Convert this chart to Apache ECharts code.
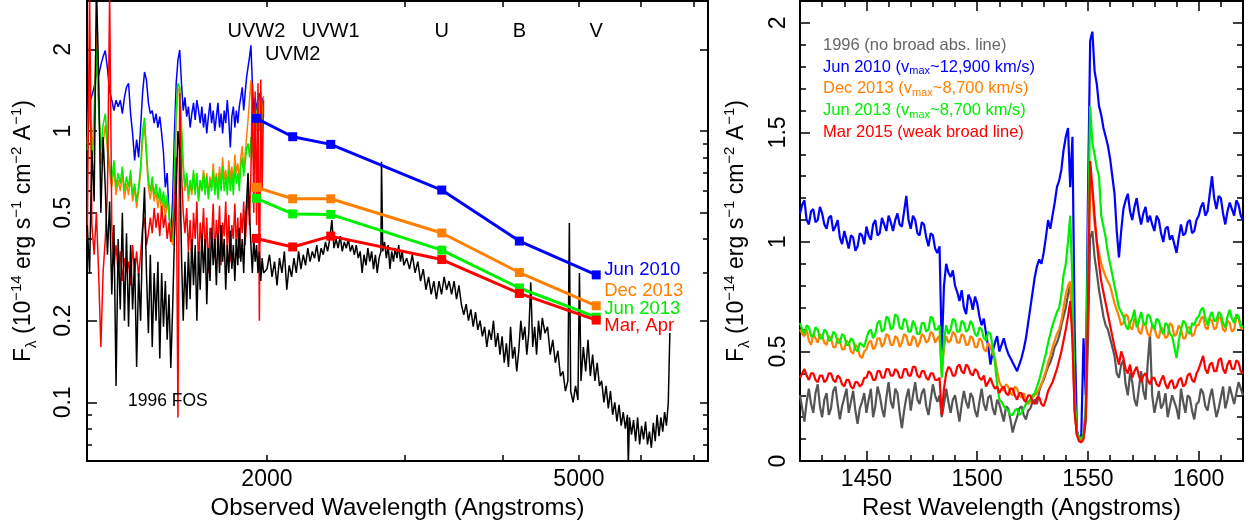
<!DOCTYPE html>
<html>
<head>
<meta charset="utf-8">
<script src="https://cdn.jsdelivr.net/npm/echarts@6/dist/echarts.min.js"></script>
<style>
html, body { margin: 0; padding: 0; background: #fff; }
#chart { width: 1250px; height: 526px; }
</style>
</head>
<body>
<div id="chart"></div>
<script>
// ---------- left panel: observed-frame spectra (Angstroms, 1e-14 erg/s/cm2/A) ----------
var uvWave = [1180,1188,1196,1204,1212,1220,1228,1236,1244,1252,1260,1268,1276,1284,1292,1300,1308,1316,1324,1332,
  1340,1348,1356,1364,1372,1380,1388,1396,1404,1412,1420,1428,1436,1444,1452,1460,1468,1476,1484,1492,
  1500,1508,1516,1524,1532,1540,1548,1556,1564,1572,1580,1588,1596,1604,1612,1620,1628,1636,1644,1652,
  1660,1668,1676,1684,1692,1700,1708,1716,1724,1732,1740,1748,1756,1764,1772,1780,1788,1796,1804,1812,
  1820,1828,1836,1844,1852,1860,1868,1876,1884,1892,1900,1908,1916,1924,1932,1940,1948,1956,1964,1972,1980];

var junUv2010 = [1.30,1.28,1.35,1.45,1.65,1.60,1.75,1.88,1.98,1.70,
  1.40,1.30,1.19,1.30,1.23,1.30,1.16,1.33,1.45,1.50,
  1.16,0.98,0.78,0.93,0.80,1.03,1.38,1.65,1.54,1.27,
  1.16,1.19,1.07,1.16,1.03,1.13,0.98,0.83,0.62,0.70,
  0.50,0.41,0.56,0.98,1.50,1.83,1.99,1.50,1.19,1.33,
  1.13,1.23,1.03,1.16,1.27,1.10,1.30,1.19,1.07,1.23,
  1.03,1.16,0.98,1.13,1.27,1.07,1.19,1.00,1.13,1.27,
  1.03,1.16,0.98,1.19,1.07,1.30,1.10,0.87,1.13,1.23,
  1.03,1.19,1.07,1.23,1.33,1.45,1.19,1.38,1.58,1.72,
  1.87,2.07,1.50,1.16,1.33,1.19,1.30,1.38,1.13,1.33,1.13];

var decUv2013 = [0.90,1.60,0.80,1.20,2.40,1.30,0.75,0.90,1.05,0.85,
  0.70,0.62,0.74,0.58,0.66,0.60,0.70,0.56,0.64,0.58,
  0.68,0.55,0.62,0.52,0.60,0.70,0.92,1.05,0.80,0.62,
  0.56,0.64,0.55,0.60,0.52,0.58,0.50,0.56,0.48,0.55,
  0.50,0.42,0.38,0.60,1.10,1.40,1.45,1.00,0.72,0.60,
  0.68,0.55,0.64,0.58,0.70,0.60,0.68,0.56,0.66,0.60,
  0.72,0.62,0.70,0.58,0.68,0.62,0.76,0.62,0.70,0.60,
  0.74,0.64,0.80,0.66,0.72,0.62,0.78,0.66,0.74,0.64,
  0.82,0.70,0.76,0.66,0.80,0.88,0.72,0.82,0.95,1.10,
  1.30,1.54,1.20,0.90,1.20,1.00,1.30,1.20,1.40,1.10,1.35];

var junUv2013 = [0.85,1.30,0.75,1.00,2.00,1.20,0.85,1.05,1.16,0.90,
  0.75,0.66,0.78,0.62,0.70,0.64,0.74,0.60,0.68,0.62,
  0.72,0.58,0.64,0.55,0.62,0.74,1.00,1.12,0.84,0.66,
  0.60,0.68,0.58,0.64,0.56,0.62,0.54,0.60,0.52,0.58,
  0.48,0.44,0.40,0.70,1.20,1.50,1.45,1.05,0.76,0.62,
  0.70,0.58,0.66,0.60,0.72,0.58,0.70,0.55,0.66,0.60,
  0.70,0.58,0.68,0.56,0.66,0.60,0.72,0.58,0.68,0.56,
  0.70,0.60,0.74,0.60,0.68,0.58,0.72,0.60,0.70,0.58,
  0.74,0.64,0.70,0.60,0.74,0.80,0.68,0.76,0.86,0.90,
  0.80,0.95,0.90,0.75,1.00,1.10,1.30,1.00,1.25,0.95,1.20];

var marUv2015 = [0.40,3.20,0.45,0.35,0.50,0.30,0.16,0.30,0.40,0.60,
  3.20,0.45,0.32,0.38,0.30,0.36,0.28,0.34,0.30,0.33,
  0.27,0.38,0.30,0.36,0.29,0.35,0.44,0.48,0.38,0.42,
  0.48,0.42,0.52,0.44,0.50,0.41,0.53,0.44,0.49,0.40,
  0.46,0.39,0.45,0.50,0.80,0.088,1.38,0.70,0.50,0.42,
  0.52,0.36,0.47,0.33,0.50,0.40,0.55,0.31,0.46,0.38,
  0.52,0.35,0.48,0.30,0.44,0.40,0.54,0.34,0.47,0.39,
  0.53,0.32,0.46,0.41,0.55,0.36,0.49,0.33,0.45,0.40,
  0.54,0.37,0.48,0.34,0.50,0.42,0.55,0.38,0.47,0.60,
  0.45,0.70,1.50,0.50,1.40,0.45,1.50,0.20,1.55,0.60,1.30];

// 1996 FOS spectrum: UV part on uvWave, optical part on its own grid
var fosUvFlux = [0.45,0.30,0.85,0.55,3.50,1.60,0.50,0.95,0.62,0.35,
  0.55,0.25,0.45,0.115,0.40,0.22,0.50,0.20,0.42,0.19,
  0.38,0.22,0.34,0.135,0.30,0.20,0.42,0.62,0.30,0.18,
  0.35,0.16,0.30,0.20,0.33,0.145,0.30,0.19,0.28,0.17,
  0.25,0.134,0.22,0.40,0.60,1.00,0.85,0.35,0.20,0.33,
  0.22,0.36,0.24,0.40,0.27,0.38,0.20,0.36,0.26,0.42,
  0.30,0.40,0.23,0.37,0.28,0.44,0.32,0.40,0.27,0.42,
  0.30,0.45,0.33,0.40,0.26,0.38,0.30,0.43,0.31,0.38,
  0.28,0.40,0.32,0.44,0.33,0.40,0.30,0.45,0.55,0.70,
  0.50,0.38,0.30,0.40,0.33,0.38,0.30,0.36,0.28,0.34,0.30];

var fosOptWave = [2000,2015,2030,2045,2060,2075,2090,2105,2120,2135,2150,2165,2180,2195,2210,2225,2240,2255,2270,2285,
  2300,2315,2330,2345,2360,2375,2390,2405,2420,2435,2450,2465,2480,2495,2510,2525,2540,2555,2570,2585,
  2600,2615,2630,2645,2660,2675,2690,2705,2720,2735,2750,2765,2780,2795,2800,2810,2825,2840,2855,2870,
  2885,2900,2915,2930,2945,2960,2975,2990,
  3015,3040,3065,3090,3115,3140,3165,3190,3215,3240,3265,3290,3315,3340,3365,3390,3415,3440,3465,3490,
  3515,3540,3565,3590,3615,3640,3665,3690,3715,3740,3765,3790,3815,3840,3865,3890,3915,3940,3965,3990,
  4015,4040,4065,4090,4115,4140,4165,4190,4215,4240,4265,4290,4315,4340,4365,4390,4415,4440,4465,4490,
  4525,4560,4595,4630,4665,4700,4735,4770,4805,4840,4861,4880,4915,4950,4985,5007,
  5030,5065,5100,5135,5170,5205,5240,5275,5310,5345,5380,5415,5450,5485,5520,5555,5590,5625,5660,5695,5730,5765,
  5780,5800,5835,5870,5905,5940,5975,6010,6045,6080,6115,6150,6185,6220,6255,6290,6325,6360,6395,6430,6465,6500,6530];

var fosOptFlux = [0.31,0.35,0.29,0.33,0.27,0.34,0.30,0.36,0.26,0.32,0.29,0.34,0.30,0.36,0.31,0.35,0.32,0.37,0.33,0.36,
  0.34,0.38,0.33,0.37,0.35,0.39,0.36,0.40,0.47,0.37,0.40,0.37,0.41,0.36,0.39,0.37,0.40,0.36,0.38,0.35,
  0.38,0.34,0.36,0.30,0.35,0.32,0.37,0.33,0.36,0.31,0.35,0.30,0.34,0.36,0.77,0.36,0.39,0.34,0.38,0.31,
  0.36,0.33,0.37,0.34,0.38,0.33,0.36,0.32,
  0.34,0.31,0.35,0.30,0.33,0.28,0.31,0.26,0.29,0.25,0.28,0.24,0.28,0.25,0.29,0.26,0.28,0.25,0.28,0.24,
  0.27,0.23,0.21,0.23,0.20,0.22,0.19,0.215,0.185,0.20,0.175,0.19,0.16,0.185,0.17,0.20,0.16,0.18,0.15,0.175,
  0.14,0.165,0.135,0.19,0.145,0.16,0.13,0.155,0.20,0.17,0.19,0.15,0.18,0.277,0.16,0.19,0.15,0.20,0.17,0.205,
  0.18,0.19,0.15,0.17,0.14,0.155,0.125,0.13,0.11,0.12,0.458,0.11,0.10,0.115,0.102,0.30,
  0.12,0.16,0.13,0.17,0.125,0.15,0.12,0.14,0.115,0.12,0.10,0.115,0.095,0.11,0.09,0.10,0.085,0.098,0.082,0.092,0.08,0.09,
  0.058,0.088,0.076,0.086,0.072,0.088,0.07,0.082,0.073,0.085,0.07,0.078,0.068,0.084,0.072,0.09,0.075,0.088,0.078,0.092,0.082,0.10,0.18];

// Swift UVOT photometry
var filterWave = [1939, 2157, 2412, 3342, 4197, 5260];
var filterName = ['UVW2', 'UVM2', 'UVW1', 'U', 'B', 'V'];
var photJun2010 = [1.114, 0.953, 0.893, 0.606, 0.393, 0.295];
var photDec2013 = [0.620, 0.563, 0.563, 0.421, 0.301, 0.227];
var photJun2013 = [0.565, 0.495, 0.493, 0.364, 0.264, 0.206];
var photMar2015 = [0.402, 0.374, 0.410, 0.336, 0.252, 0.201];

var obsTicks = [2000, 3000, 4000, 5000, 6000, 7000];
var obsLabels = [2000, 5000];
var fluxMajor = [0.1, 0.2, 0.5, 1, 2];
var fluxMinor = [0.07, 0.08, 0.09, 0.3, 0.4, 0.6, 0.7, 0.8, 0.9];

// ---------- right panel: C IV region, rest frame, 1 A bins ----------
var restWave = [1420,1421,1422,1423,1424,1425,1426,1427,1428,1429,
  1430,1431,1432,1433,1434,1435,1436,1437,1438,1439,
  1440,1441,1442,1443,1444,1445,1446,1447,1448,1449,
  1450,1451,1452,1453,1454,1455,1456,1457,1458,1459,
  1460,1461,1462,1463,1464,1465,1466,1467,1468,1469,
  1470,1471,1472,1473,1474,1475,1476,1477,1478,1479,
  1480,1481,1482,1483,1484,1485,1486,1487,1488,1489,
  1490,1491,1492,1493,1494,1495,1496,1497,1498,1499,
  1500,1501,1502,1503,1504,1505,1506,1507,1508,1509,
  1510,1511,1512,1513,1514,1515,1516,1517,1518,1519,
  1520,1521,1522,1523,1524,1525,1526,1527,1528,1529,
  1530,1531,1532,1533,1534,1535,1536,1537,1538,1539,
  1540,1541,1542,1543,1544,1545,1546,1547,1548,1549,
  1550,1551,1552,1553,1554,1555,1556,1557,1558,1559,
  1560,1561,1562,1563,1564,1565,1566,1567,1568,1569,
  1570,1571,1572,1573,1574,1575,1576,1577,1578,1579,
  1580,1581,1582,1583,1584,1585,1586,1587,1588,1589,
  1590,1591,1592,1593,1594,1595,1596,1597,1598,1599,
  1600,1601,1602,1603,1604,1605,1606,1607,1608,1609,
  1610,1611,1612,1613,1614,1615,1616,1617,1618,1619,1620];

var civ1996 = [0.30,0.24,0.18,0.27,0.33,0.26,0.22,0.31,0.35,0.25,
  0.20,0.28,0.31,0.21,0.24,0.32,0.34,0.26,0.19,0.25,
  0.29,0.33,0.22,0.27,0.32,0.23,0.17,0.24,0.27,0.31,
  0.22,0.28,0.33,0.20,0.25,0.34,0.30,0.24,0.20,0.29,
  0.36,0.27,0.24,0.33,0.31,0.22,0.15,0.23,0.29,0.33,
  0.23,0.30,0.36,0.28,0.26,0.31,0.33,0.25,0.21,0.28,
  0.35,0.30,0.27,0.30,0.20,0.26,0.33,0.27,0.22,0.28,
  0.30,0.24,0.18,0.26,0.32,0.27,0.24,0.31,0.29,0.23,
  0.20,0.27,0.33,0.26,0.23,0.29,0.30,0.24,0.21,0.28,
  0.26,0.22,0.18,0.25,0.24,0.19,0.13,0.17,0.20,0.24,
  0.25,0.21,0.19,0.23,0.24,0.27,0.28,0.26,0.32,0.35,
  0.37,0.40,0.43,0.45,0.48,0.52,0.54,0.57,0.62,0.66,
  0.70,0.76,0.81,0.60,0.24,0.12,0.10,0.09,0.11,0.18,
  0.55,1.02,1.05,0.93,0.86,0.78,0.72,0.66,0.62,0.60,
  0.56,0.52,0.48,0.40,0.38,0.44,0.46,0.35,0.30,0.40,
  0.36,0.28,0.25,0.33,0.41,0.32,0.28,0.45,0.58,0.30,
  0.22,0.27,0.32,0.24,0.26,0.31,0.20,0.25,0.30,0.27,
  0.24,0.19,0.33,0.27,0.22,0.30,0.29,0.23,0.19,0.26,
  0.27,0.33,0.31,0.25,0.23,0.29,0.33,0.26,0.20,0.24,
  0.29,0.34,0.24,0.28,0.34,0.30,0.26,0.31,0.36,0.33,0.30];

var civJun2010 = [1.13,1.17,1.19,1.10,1.08,1.14,1.15,1.09,1.10,1.16,
  1.13,1.08,1.06,1.11,1.12,1.05,1.07,1.10,1.02,0.99,
  1.05,1.01,0.97,1.03,1.02,0.96,0.98,1.04,1.03,0.99,
  1.07,1.03,1.01,1.08,1.10,1.03,1.04,1.11,1.08,1.05,
  1.12,1.09,1.05,1.10,1.13,1.08,1.07,1.14,1.21,1.10,
  1.06,1.12,1.10,1.04,1.03,1.09,1.08,1.02,0.98,1.04,
  1.03,0.97,0.95,0.98,0.50,0.80,0.90,0.86,0.84,0.87,
  0.80,0.77,0.73,0.78,0.70,0.67,0.76,0.74,0.69,0.75,
  0.72,0.66,0.62,0.65,0.58,0.52,0.44,0.50,0.54,0.57,
  0.50,0.53,0.56,0.52,0.49,0.47,0.45,0.43,0.41,0.44,
  0.47,0.51,0.56,0.63,0.70,0.77,0.84,0.89,0.92,0.90,
  0.95,1.02,1.10,1.06,1.12,1.18,1.25,1.28,1.33,1.42,
  1.48,1.52,1.25,1.48,0.60,0.14,0.10,0.12,0.56,0.30,
  1.20,1.92,1.96,1.78,1.72,1.62,1.58,1.52,1.48,1.44,
  1.38,1.30,1.22,1.05,0.93,1.05,1.15,1.19,1.22,1.14,
  1.10,1.16,1.20,1.13,1.08,1.13,1.16,1.09,1.12,1.08,
  1.05,1.12,1.10,1.04,1.00,1.06,1.07,1.01,1.03,0.99,
  0.95,1.02,1.08,1.03,1.04,1.09,1.10,1.04,1.05,1.10,
  1.12,1.16,1.18,1.12,1.14,1.22,1.30,1.20,1.15,1.21,
  1.20,1.13,1.08,1.14,1.18,1.15,1.12,1.19,1.17,1.12,1.10];

var civDec2013 = [0.60,0.58,0.57,0.60,0.55,0.53,0.58,0.56,0.54,0.58,
  0.57,0.54,0.53,0.57,0.56,0.52,0.52,0.56,0.55,0.51,
  0.51,0.55,0.54,0.50,0.49,0.53,0.52,0.48,0.47,0.50,
  0.51,0.54,0.55,0.51,0.52,0.56,0.56,0.52,0.54,0.58,
  0.57,0.53,0.53,0.57,0.56,0.52,0.54,0.58,0.57,0.53,
  0.53,0.57,0.56,0.52,0.54,0.58,0.57,0.54,0.55,0.59,
  0.58,0.54,0.56,0.57,0.40,0.52,0.57,0.54,0.55,0.59,
  0.58,0.54,0.54,0.58,0.57,0.53,0.53,0.57,0.56,0.52,
  0.52,0.56,0.55,0.51,0.50,0.54,0.52,0.49,0.47,0.41,
  0.36,0.34,0.32,0.35,0.34,0.31,0.30,0.34,0.33,0.30,
  0.29,0.31,0.28,0.26,0.27,0.29,0.30,0.31,0.33,0.35,
  0.38,0.41,0.45,0.48,0.52,0.55,0.58,0.60,0.64,0.70,
  0.76,0.80,0.82,0.60,0.25,0.12,0.10,0.09,0.11,0.22,
  0.80,1.30,1.22,1.08,1.00,0.95,0.90,0.87,0.84,0.82,
  0.80,0.76,0.72,0.69,0.66,0.62,0.63,0.67,0.66,0.61,
  0.60,0.65,0.64,0.59,0.58,0.63,0.62,0.58,0.57,0.62,
  0.61,0.57,0.56,0.61,0.60,0.56,0.57,0.63,0.62,0.57,
  0.58,0.62,0.60,0.56,0.56,0.61,0.61,0.57,0.58,0.62,
  0.62,0.65,0.66,0.61,0.60,0.65,0.64,0.60,0.61,0.66,
  0.65,0.60,0.59,0.64,0.63,0.59,0.60,0.66,0.65,0.61,0.60];

var civJun2013 = [0.63,0.60,0.58,0.62,0.61,0.57,0.57,0.61,0.60,0.56,
  0.56,0.60,0.59,0.55,0.55,0.59,0.58,0.54,0.54,0.58,
  0.57,0.53,0.53,0.56,0.55,0.51,0.50,0.54,0.53,0.52,
  0.56,0.59,0.60,0.56,0.58,0.63,0.64,0.59,0.60,0.66,
  0.65,0.60,0.61,0.67,0.66,0.61,0.60,0.65,0.64,0.59,
  0.59,0.64,0.62,0.58,0.58,0.63,0.63,0.59,0.60,0.66,
  0.65,0.60,0.60,0.62,0.38,0.55,0.62,0.58,0.60,0.65,
  0.64,0.59,0.59,0.64,0.63,0.59,0.60,0.64,0.62,0.58,
  0.57,0.61,0.60,0.56,0.55,0.59,0.58,0.52,0.45,0.35,
  0.28,0.27,0.25,0.24,0.23,0.21,0.21,0.23,0.24,0.21,
  0.22,0.24,0.26,0.27,0.28,0.30,0.31,0.34,0.37,0.41,
  0.45,0.49,0.54,0.58,0.62,0.65,0.68,0.70,0.76,0.85,
  0.90,1.00,1.12,0.80,0.30,0.13,0.11,0.10,0.12,0.25,
  1.00,1.62,1.45,1.40,1.34,1.30,1.12,1.07,1.02,0.95,
  0.90,0.85,0.80,0.75,0.70,0.68,0.66,0.62,0.60,0.63,
  0.65,0.69,0.61,0.64,0.68,0.63,0.62,0.67,0.66,0.62,
  0.60,0.65,0.64,0.60,0.58,0.63,0.62,0.58,0.57,0.52,
  0.47,0.55,0.60,0.64,0.63,0.59,0.58,0.63,0.62,0.65,
  0.66,0.69,0.70,0.65,0.62,0.66,0.68,0.64,0.64,0.68,
  0.67,0.63,0.61,0.66,0.69,0.65,0.63,0.67,0.66,0.62,0.61];

var civMar2015 = [0.38,0.40,0.42,0.39,0.37,0.40,0.40,0.37,0.36,0.39,
  0.39,0.36,0.37,0.40,0.40,0.37,0.36,0.39,0.38,0.35,
  0.34,0.37,0.37,0.34,0.33,0.36,0.36,0.34,0.35,0.38,
  0.38,0.41,0.40,0.37,0.37,0.41,0.41,0.38,0.38,0.42,
  0.42,0.39,0.39,0.42,0.41,0.38,0.38,0.42,0.42,0.39,
  0.39,0.43,0.43,0.39,0.38,0.41,0.41,0.38,0.37,0.40,
  0.40,0.37,0.37,0.38,0.21,0.33,0.40,0.43,0.42,0.39,
  0.39,0.43,0.44,0.41,0.40,0.44,0.43,0.40,0.39,0.42,
  0.41,0.38,0.37,0.39,0.34,0.36,0.38,0.35,0.33,0.34,
  0.31,0.33,0.34,0.31,0.30,0.33,0.33,0.30,0.28,0.31,
  0.31,0.28,0.27,0.30,0.30,0.27,0.26,0.29,0.29,0.26,
  0.25,0.28,0.32,0.34,0.36,0.39,0.42,0.46,0.50,0.55,
  0.60,0.66,0.73,0.55,0.22,0.12,0.09,0.085,0.10,0.20,
  0.70,1.37,1.25,1.12,1.00,0.90,0.82,0.77,0.72,0.67,
  0.62,0.57,0.52,0.48,0.44,0.50,0.47,0.42,0.40,0.44,
  0.38,0.41,0.43,0.39,0.36,0.39,0.40,0.37,0.35,0.38,
  0.38,0.35,0.34,0.37,0.39,0.35,0.33,0.36,0.37,0.33,
  0.34,0.37,0.38,0.34,0.35,0.39,0.40,0.37,0.36,0.40,
  0.42,0.45,0.48,0.42,0.40,0.44,0.45,0.41,0.41,0.46,
  0.47,0.42,0.40,0.44,0.46,0.42,0.42,0.46,0.45,0.41,0.40];

var restMajor = [1450, 1500, 1550, 1600];
var restMinor = [1430,1440,1460,1470,1480,1490,1510,1520,1530,1540,1560,1570,1580,1590,1610];
var civMajor = [0, 0.5, 1, 1.5, 2];
var civMinor = [0.1,0.2,0.3,0.4,0.6,0.7,0.8,0.9,1.1,1.2,1.3,1.4,1.6,1.7,1.8,1.9];

var BLUE = '#0000ff', ORANGE = '#ff8000', GREEN = '#00ee00', RED = '#ff0000', GREY = '#555555';
var FONT = 'Liberation Sans, Arial, Helvetica, sans-serif';

function pairs(xs, ys) {
  var out = [];
  for (var i = 0; i < ys.length; i++) out.push([xs[i], ys[i]]);
  return out;
}

var tickLine = { color: '#000', width: 1.5 };
var frameLine = { color: '#000', width: 2 };
var fluxName = 'F{sub|λ} (10{sup|−14} erg s{sup|−1} cm{sup|−2} A{sup|−1})';
var nameStyle = {
  fontSize: 23, color: '#000', lineHeight: 30, fontFamily: FONT,
  rich: {
    sub: { fontSize: 15, color: '#000', verticalAlign: 'bottom', lineHeight: 30, fontFamily: FONT },
    sup: { fontSize: 15, color: '#000', verticalAlign: 'top', lineHeight: 30, fontFamily: FONT }
  }
};

// overlay axes that only carry ticks
function tickAxis(base, values, len, withLine) {
  return Object.assign({}, base, {
    axisLine: { show: !!withLine, onZero: false, lineStyle: frameLine },
    axisTick: { show: true, inside: true, length: len, customValues: values, lineStyle: tickLine },
    axisLabel: { show: false },
    splitLine: { show: false }
  });
}

function filterLabel(v) {
  for (var i = 0; i < filterWave.length; i++) {
    if (Math.abs(filterWave[i] - v) < 1) return filterName[i];
  }
  return '';
}

var obsBase = { type: 'log', gridIndex: 0, min: 1179, max: 7304 };
var fluxBase = { type: 'log', gridIndex: 0, min: 0.0608, max: 3.015 };
var restBase = { type: 'value', gridIndex: 1, min: 1420, max: 1620 };
var civBase = { type: 'value', gridIndex: 1, min: 0, max: 2.1 };

var xAxes = [
  Object.assign({}, obsBase, {
    position: 'bottom',
    axisLine: { show: true, onZero: false, lineStyle: frameLine },
    axisTick: { show: true, inside: true, length: 6, customValues: obsTicks, lineStyle: tickLine },
    axisLabel: { show: true, customValues: obsLabels, showMinLabel: true, showMaxLabel: true,
      formatter: function (v) { return String(Math.round(v)); },
      fontSize: 23, color: '#000', margin: 7 },
    splitLine: { show: false },
    name: 'Observed Wavelength (Angstroms)', nameLocation: 'middle', nameGap: 35,
    nameTextStyle: { fontSize: 24, color: '#000' }
  }),
  Object.assign({}, obsBase, {
    position: 'top',
    axisLine: { show: true, onZero: false, lineStyle: frameLine },
    axisTick: { show: true, inside: true, length: 6, customValues: obsTicks, lineStyle: tickLine },
    axisLabel: { show: true, inside: true, showMinLabel: true, showMaxLabel: true,
      customValues: [filterWave[0], filterWave[2], filterWave[3], filterWave[4], filterWave[5]],
      formatter: filterLabel, fontSize: 20, color: '#000', margin: 20 },
    splitLine: { show: false }
  }),
  Object.assign({}, obsBase, {
    position: 'top',
    axisLine: { show: false },
    axisTick: { show: false },
    axisLabel: { show: true, inside: true, showMinLabel: true, showMaxLabel: true,
      customValues: [filterWave[1]], formatter: filterLabel, fontSize: 20, color: '#000', margin: 43 },
    splitLine: { show: false }
  }),
  Object.assign({}, restBase, {
    position: 'bottom',
    axisLine: { show: true, onZero: false, lineStyle: frameLine },
    axisTick: { show: true, inside: true, length: 10, customValues: restMajor, lineStyle: tickLine },
    axisLabel: { show: true, customValues: restMajor, showMinLabel: true, showMaxLabel: true,
      formatter: function (v) { return String(v); }, fontSize: 23, color: '#000', margin: 7 },
    splitLine: { show: false },
    name: 'Rest Wavelength (Angstroms)', nameLocation: 'middle', nameGap: 35,
    nameTextStyle: { fontSize: 24, color: '#000' }
  }),
  tickAxis(Object.assign({ position: 'bottom' }, restBase), restMinor, 6, false),
  tickAxis(Object.assign({ position: 'top' }, restBase), restMajor, 10, true),
  tickAxis(Object.assign({ position: 'top' }, restBase), restMinor, 6, false)
];

var yAxes = [
  Object.assign({}, fluxBase, {
    position: 'left',
    axisLine: { show: true, onZero: false, lineStyle: frameLine },
    axisTick: { show: true, inside: true, length: 10, customValues: fluxMajor, lineStyle: tickLine },
    axisLabel: { show: true, rotate: 90, customValues: fluxMajor, showMinLabel: true, showMaxLabel: true,
      formatter: function (v) { return String(v); }, fontSize: 23, color: '#000', margin: 12 },
    splitLine: { show: false },
    name: fluxName, nameLocation: 'middle', nameRotate: 90, nameGap: 48, nameTextStyle: nameStyle
  }),
  tickAxis(Object.assign({ position: 'left' }, fluxBase), fluxMinor, 5, false),
  tickAxis(Object.assign({ position: 'right' }, fluxBase), fluxMajor, 8, true),
  tickAxis(Object.assign({ position: 'right' }, fluxBase), fluxMinor, 5, false),
  Object.assign({}, civBase, {
    position: 'left',
    axisLine: { show: true, onZero: false, lineStyle: frameLine },
    axisTick: { show: true, inside: true, length: 10, customValues: civMajor, lineStyle: tickLine },
    axisLabel: { show: true, rotate: 90, customValues: civMajor, showMinLabel: true, showMaxLabel: true,
      formatter: function (v) { return String(v); }, fontSize: 23, color: '#000', margin: 10 },
    splitLine: { show: false },
    name: fluxName, nameLocation: 'middle', nameRotate: 90, nameGap: 48, nameTextStyle: nameStyle
  }),
  tickAxis(Object.assign({ position: 'left' }, civBase), civMinor, 6, false),
  tickAxis(Object.assign({ position: 'right' }, civBase), civMajor, 10, true),
  tickAxis(Object.assign({ position: 'right' }, civBase), civMinor, 6, false)
];

function spectrum(xIdx, yIdx, xs, ys, color, width) {
  return {
    type: 'line', xAxisIndex: xIdx, yAxisIndex: yIdx, data: pairs(xs, ys),
    showSymbol: false, symbol: 'none', clip: true, silent: true,
    lineStyle: { color: color, width: width }, itemStyle: { color: color }
  };
}

function photometry(ys, color, text, dy) {
  return {
    type: 'line', xAxisIndex: 0, yAxisIndex: 0, data: pairs(filterWave, ys),
    symbol: 'rect', symbolSize: 9, showSymbol: true, clip: true, silent: true,
    lineStyle: { color: color, width: 3 }, itemStyle: { color: color },
    endLabel: { show: true, formatter: text, color: color, fontSize: 18.5, distance: 8, offset: [0, dy] }
  };
}

var fosWave = uvWave.concat(fosOptWave);
var fosFlux = fosUvFlux.concat(fosOptFlux);

var series = [
  spectrum(0, 0, uvWave, junUv2010, BLUE, 1.5),
  spectrum(0, 0, uvWave, decUv2013, ORANGE, 1.5),
  spectrum(0, 0, uvWave, junUv2013, GREEN, 1.5),
  spectrum(0, 0, uvWave, marUv2015, RED, 1.5),
  spectrum(0, 0, fosWave, fosFlux, '#000', 1.5),
  photometry(photJun2010, BLUE, 'Jun 2010', -5),
  photometry(photDec2013, ORANGE, 'Dec 2013', -15),
  photometry(photJun2013, GREEN, 'Jun 2013', -8),
  photometry(photMar2015, RED, 'Mar, Apr', 6),
  spectrum(3, 4, restWave, civ1996, GREY, 2.2),
  spectrum(3, 4, restWave, civJun2010, BLUE, 2.2),
  spectrum(3, 4, restWave, civDec2013, ORANGE, 2.2),
  spectrum(3, 4, restWave, civJun2013, GREEN, 2.2),
  spectrum(3, 4, restWave, civMar2015, RED, 2.2)
];

var legendLines = [
  { text: '1996 (no broad abs. line)', color: '#666666' },
  { text: 'Jun 2010 (v{sub|max}~12,900 km/s)', color: BLUE },
  { text: 'Dec 2013 (v{sub|max}~8,700 km/s)', color: ORANGE },
  { text: 'Jun 2013 (v{sub|max}~8,700 km/s)', color: GREEN },
  { text: 'Mar 2015 (weak broad line)', color: RED }
];

var titles = [{
  text: '1996 FOS', left: 128, top: 392, padding: 0,
  textStyle: { fontSize: 17.5, fontWeight: 'normal', color: '#000', fontFamily: FONT }
}];
legendLines.forEach(function (l, i) {
  titles.push({
    text: l.text, left: 823, top: 36 + i * 21.7, padding: 0,
    textStyle: {
      fontSize: 16.5, fontWeight: 'normal', color: l.color, fontFamily: FONT, lineHeight: 19,
      rich: { sub: { fontSize: 11, color: l.color, verticalAlign: 'bottom', lineHeight: 19, fontFamily: FONT } }
    }
  });
});

var chart = echarts.init(document.getElementById('chart'), null, { renderer: 'canvas' });
chart.setOption({
  animation: false,
  backgroundColor: '#fff',
  textStyle: { fontFamily: FONT },
  title: titles,
  grid: [
    { left: 87, top: 1, width: 621, height: 460, containLabel: false, outerBoundsMode: 'none' },
    { left: 800, top: 1, width: 443, height: 460, containLabel: false, outerBoundsMode: 'none' }
  ],
  xAxis: xAxes,
  yAxis: yAxes,
  series: series
});
</script>
</body>
</html>
